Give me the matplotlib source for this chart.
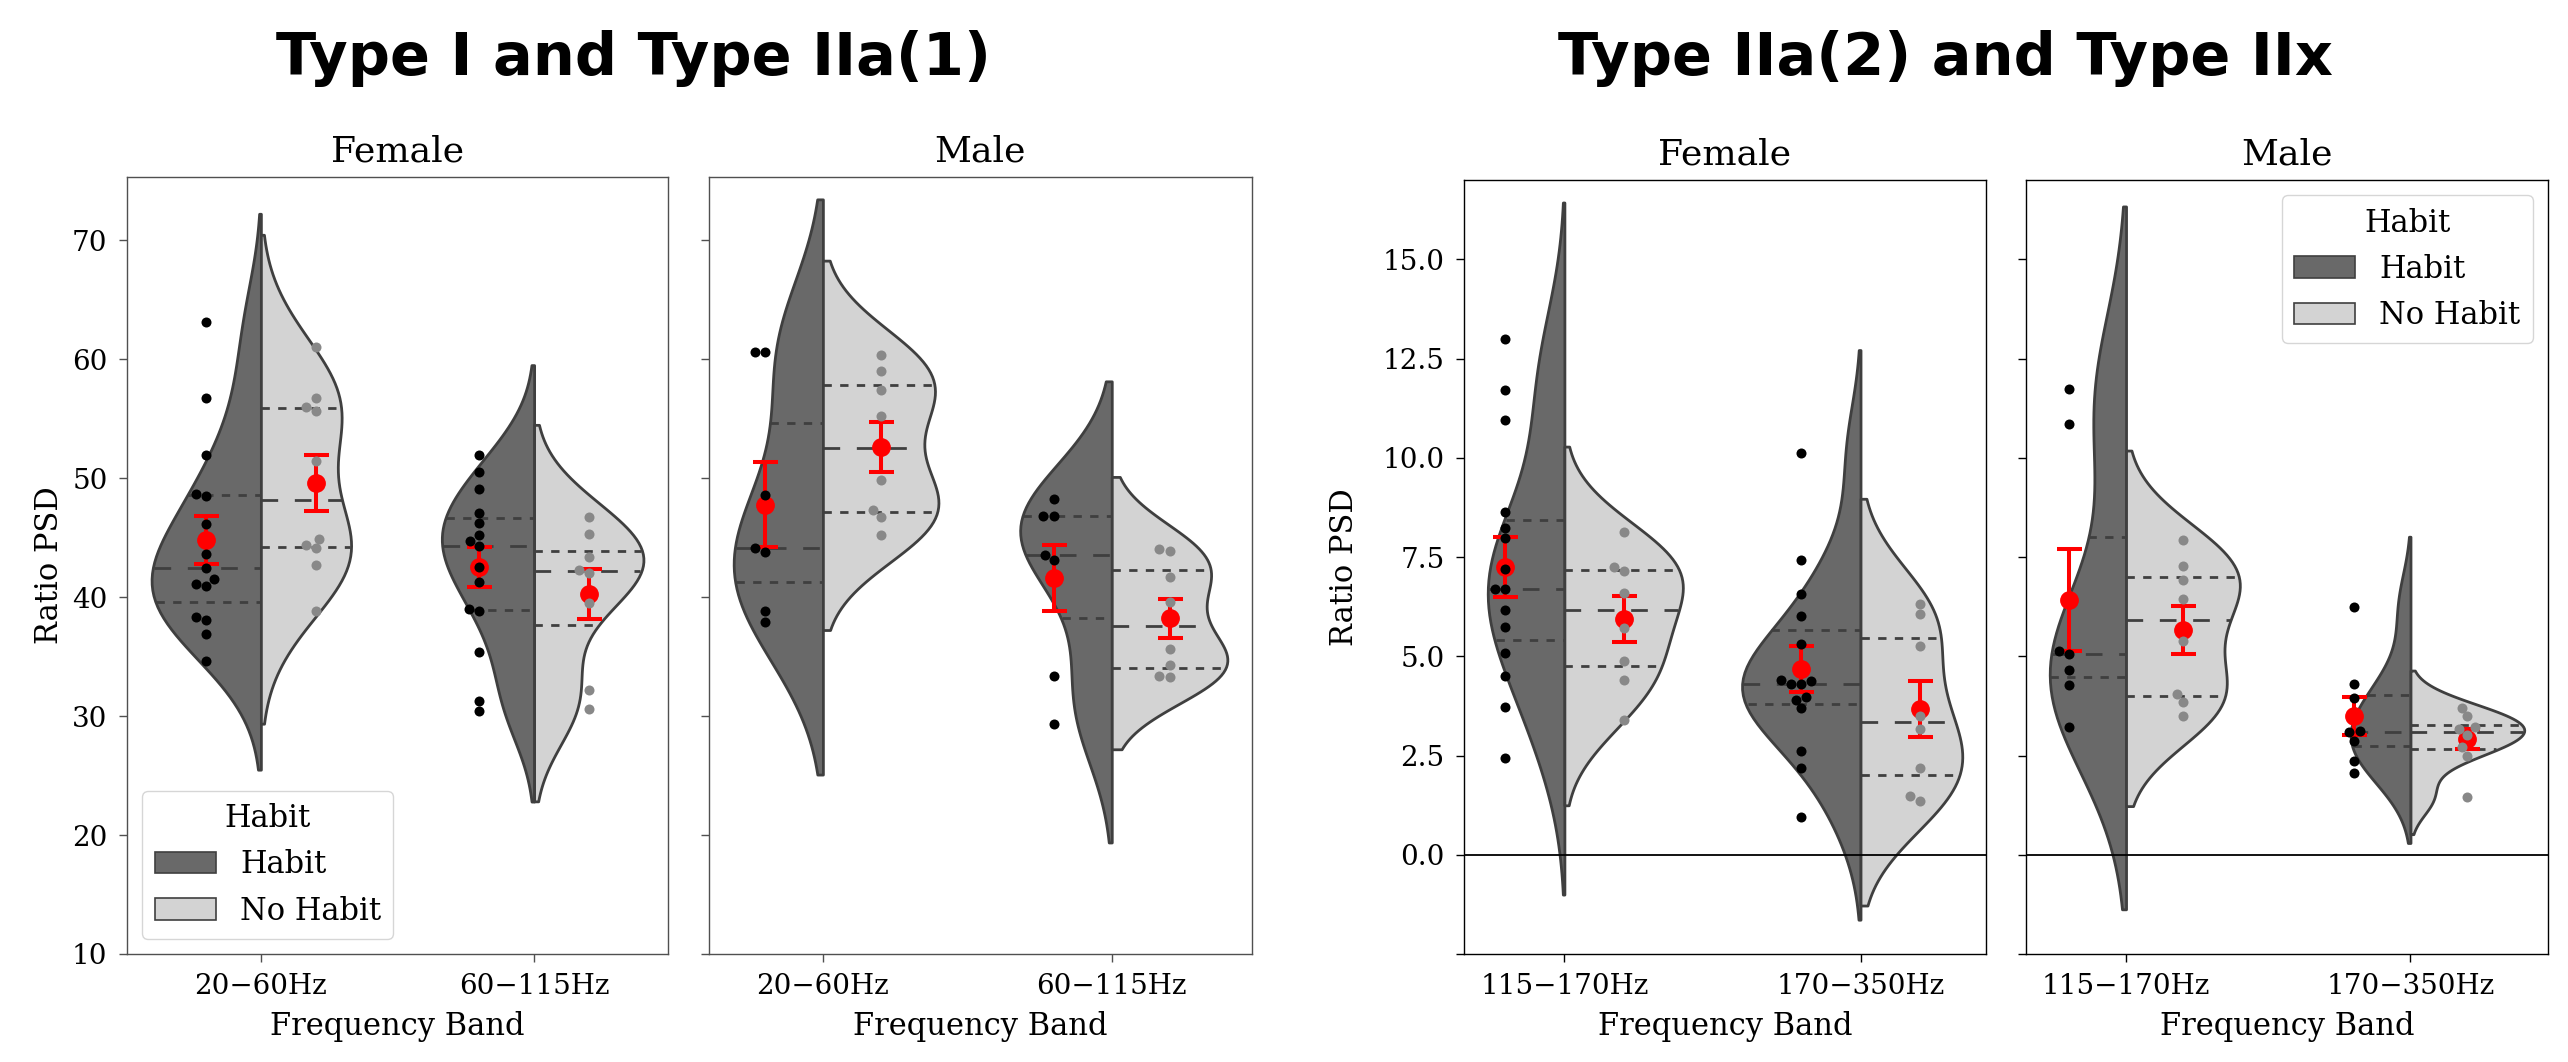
import numpy as np
import matplotlib
matplotlib.use("Agg")
import matplotlib.pyplot as plt
from matplotlib.patches import Patch

plt.rcParams['font.family'] = ['DejaVu Serif']

# ---------------- data ----------------
bands_left = ['20−60Hz', '60−115Hz']
bands_right = ['115−170Hz', '170−350Hz']
hue_levels = ['Habit', 'No Habit']
sexes = ['Female', 'Male']
group_titles = ['Type I and Type IIa(1)', 'Type IIa(2) and Type IIx']

# Type I / IIa(1) – Female
lf_2060_habit = [63.1, 56.7, 51.9, 48.7, 48.5, 46.1, 43.6, 42.4, 41.5, 41.1, 40.9, 38.3, 38.1, 36.9, 34.6]
lf_2060_nohabit = [61.0, 56.7, 56.0, 55.6, 51.4, 44.9, 44.4, 44.1, 42.7, 38.8]
lf_60115_habit = [51.9, 50.5, 49.1, 47.1, 46.2, 45.2, 44.7, 44.3, 42.5, 41.3, 39.0, 38.8, 35.4, 31.3, 30.4]
lf_60115_nohabit = [46.7, 45.3, 43.4, 42.3, 42.0, 39.5, 32.2, 30.6]
# Type I / IIa(1) – Male
lm_2060_habit = [60.6, 60.6, 48.6, 44.1, 43.8, 38.8, 37.9]
lm_2060_nohabit = [60.3, 59.0, 57.4, 55.2, 49.8, 47.3, 46.7, 45.2]
lm_60115_habit = [48.2, 46.8, 46.8, 43.5, 43.1, 33.4, 29.3]
lm_60115_nohabit = [44.0, 43.9, 41.7, 39.6, 35.6, 34.3, 33.4, 33.3]
# Type IIa(2) / IIx – Female
rf_115170_habit = [13.0, 11.7, 10.95, 8.63, 8.24, 7.97, 7.19, 6.7, 6.7, 6.17, 5.75, 5.08, 4.5, 3.73, 2.43]
rf_115170_nohabit = [8.14, 7.25, 7.14, 6.6, 5.71, 4.87, 4.41, 3.39]
rf_170350_habit = [10.12, 7.42, 6.56, 6.02, 5.31, 4.41, 4.37, 4.3, 4.3, 3.98, 3.91, 3.69, 2.61, 2.19, 0.96]
rf_170350_nohabit = [6.33, 6.07, 5.25, 3.49, 3.18, 2.18, 1.47, 1.36]
# Type IIa(2) / IIx – Male
rm_115170_habit = [11.73, 10.86, 5.13, 5.07, 4.66, 4.28, 3.23]
rm_115170_nohabit = [7.92, 7.28, 6.91, 6.45, 5.39, 4.05, 3.84, 3.49]
rm_170350_habit = [6.25, 4.3, 3.94, 3.11, 3.1, 2.87, 2.35, 2.06]
rm_170350_nohabit = [3.71, 3.49, 3.21, 3.17, 3.03, 2.71, 2.5, 1.45]

left_ylim = (10, 75.3)
left_yticks = [10, 20, 30, 40, 50, 60, 70]
right_ylim = (-2.5, 17.0)
right_yticks = [-2.5, 0.0, 2.5, 5.0, 7.5, 10.0, 12.5, 15.0]

# ---------------- styling ----------------
HAB = '#696969'
NOHAB = '#d3d3d3'
EDGE = '#3f3f3f'
PT_COLORS = ['#000000', '#888888']
LW = 2.0

W, H = 2568, 1062
fig = plt.figure(figsize=(W / 100, H / 100), dpi=100)


def px_axes(x0, x1, ytop, ybot):
    return fig.add_axes([x0 / W, 1 - ybot / H, (x1 - x0) / W, (ybot - ytop) / H])


def kde(vals):
    v = np.asarray(vals, float)
    n = len(v)
    bw = v.std(ddof=1) * n ** (-1 / 5)
    grid = np.linspace(v.min() - 2 * bw, v.max() + 2 * bw, 100)
    dens = np.exp(-0.5 * ((grid[:, None] - v[None, :]) / bw) ** 2).sum(1) / (n * bw * np.sqrt(2 * np.pi))
    return grid, dens


def swarm(ax, xc, vals, r_px):
    pts = ax.transData.transform(np.column_stack([np.full(len(vals), xc), vals]))
    order = np.argsort(pts[:, 1], kind='stable')
    placed = []
    out = np.zeros_like(pts)
    for k in order:
        x0, y0 = pts[k]
        neigh = [(px, py) for px, py in placed if abs(py - y0) < 2 * r_px]
        cands = [x0]
        for px, py in neigh:
            dy = y0 - py
            dx = np.sqrt(max(4 * r_px ** 2 - dy ** 2, 0)) * 1.05
            cands += [px - dx, px + dx]
        cands = sorted(cands, key=lambda c: abs(c - x0))
        chosen = cands[-1]
        for c in cands:
            if all((c - px) ** 2 + (y0 - py) ** 2 >= (2 * r_px) ** 2 * 0.999 for px, py in neigh):
                chosen = c
                break
        placed.append((chosen, y0))
        out[k] = (chosen, y0)
    return ax.transData.inverted().transform(out)


def draw_panel(ax, bands, groups, ylim, yticks, ytlabels, spine_color, zero_line=False):
    for i, pair in enumerate(groups):
        kds = [kde(v) for v in pair]
        maxd = max(d.max() for _, d in kds)
        for j, (vals, (g, d)) in enumerate(zip(pair, kds)):
            w = d / maxd * 0.4
            if j == 0:
                ax.fill_betweenx(g, i - w, i, facecolor=HAB, edgecolor=EDGE, linewidth=LW, zorder=1)
            else:
                ax.fill_betweenx(g, i, i + w, facecolor=NOHAB, edgecolor=EDGE, linewidth=LW, zorder=1)
            qs = np.percentile(vals, [25, 50, 75])
            for q, dl in zip(qs, (1.5, 3.0, 1.5)):
                wq = w[np.argmin(np.abs(g - q))] * 0.99
                xs = [i - wq, i] if j == 0 else [i, i + wq]
                ln, = ax.plot(xs, [q, q], color=EDGE, linewidth=LW, zorder=2)
                ln.set_dashes([LW * dl, LW * dl])
            # mean +/- SEM
            arr = np.asarray(vals, float)
            m = arr.mean()
            se = arr.std(ddof=1) / np.sqrt(len(arr))
            xm = i - 0.2 if j == 0 else i + 0.2
            ax.errorbar([xm], [m], yerr=[se], fmt='o', color='red', mec='red', ms=12.5,
                        elinewidth=2.9, capsize=9, capthick=2.9, zorder=3)
    if zero_line:
        ax.axhline(0, color='black', linewidth=1.3, zorder=2.5)
    ax.set_ylim(*ylim)
    ax.autoscale_view(scalex=True, scaley=False)
    ax.set_xlim(ax.get_xlim())
    # swarm points
    for i, pair in enumerate(groups):
        for j, vals in enumerate(pair):
            xc = i - 0.2 if j == 0 else i + 0.2
            xy = swarm(ax, xc, vals, 5.0)
            ax.scatter(xy[:, 0], xy[:, 1], s=52, color=PT_COLORS[j], linewidths=0, zorder=4)
    ax.set_xticks(range(len(bands)))
    ax.set_xticklabels(bands)
    ax.set_yticks(yticks)
    ax.set_yticklabels(ytlabels)
    ax.tick_params(length=6, width=1.0, pad=8, labelsize=20, color=spine_color)
    for s in ax.spines.values():
        s.set_color(spine_color)
        s.set_linewidth(1.0)
    ax.set_xlabel('Frequency Band', fontsize=22)
    ax.xaxis.set_label_coords(0.5, -0.074)


legend_handles = [Patch(facecolor=HAB, edgecolor=EDGE, linewidth=1.2, label=hue_levels[0]),
                  Patch(facecolor=NOHAB, edgecolor=EDGE, linewidth=1.2, label=hue_levels[1])]

left_groups = {
    'Female': [(lf_2060_habit, lf_2060_nohabit), (lf_60115_habit, lf_60115_nohabit)],
    'Male': [(lm_2060_habit, lm_2060_nohabit), (lm_60115_habit, lm_60115_nohabit)],
}
right_groups = {
    'Female': [(rf_115170_habit, rf_115170_nohabit), (rf_170350_habit, rf_170350_nohabit)],
    'Male': [(rm_115170_habit, rm_115170_nohabit), (rm_170350_habit, rm_170350_nohabit)],
}

left_ylabels = [str(v) for v in left_yticks]
right_ylabels = ['' if v < 0 else f'{v:.1f}' for v in right_yticks]

ax_lf = px_axes(127, 668, 177, 954)
ax_lm = px_axes(709, 1252, 177, 954)
ax_rf = px_axes(1464, 1986, 180, 954)
ax_rm = px_axes(2026, 2548, 180, 954)

draw_panel(ax_lf, bands_left, left_groups['Female'], left_ylim, left_yticks, left_ylabels, '#505050')
draw_panel(ax_lm, bands_left, left_groups['Male'], left_ylim, left_yticks, ['' for _ in left_yticks], '#505050')
draw_panel(ax_rf, bands_right, right_groups['Female'], right_ylim, right_yticks, right_ylabels, 'black', True)
draw_panel(ax_rm, bands_right, right_groups['Male'], right_ylim, right_yticks, ['' for _ in right_yticks], 'black', True)

for ax, sx in ((ax_lf, 'Female'), (ax_lm, 'Male'), (ax_rf, 'Female'), (ax_rm, 'Male')):
    ax.set_title(sx, fontsize=26, pad=11)

ax_lf.set_ylabel('Ratio PSD', fontsize=22)
ax_lf.yaxis.set_label_coords(-0.115, 0.5)
ax_rf.set_ylabel('Ratio PSD', fontsize=22)
ax_rf.yaxis.set_label_coords(-0.20, 0.5)

ax_lf.legend(handles=legend_handles, title='Habit', loc='lower left', fontsize=22, title_fontsize=22)
ax_rm.legend(handles=legend_handles, title='Habit', loc='upper right', fontsize=22, title_fontsize=22)

fig.text(634 / W, 1 - 75 / H, group_titles[0], ha='center', va='baseline',
         fontsize=42.5, fontweight='bold', family='DejaVu Sans')
fig.text(1945 / W, 1 - 75 / H, group_titles[1], ha='center', va='baseline',
         fontsize=42.5, fontweight='bold', family='DejaVu Sans')

fig.savefig('out.png', dpi=100)
